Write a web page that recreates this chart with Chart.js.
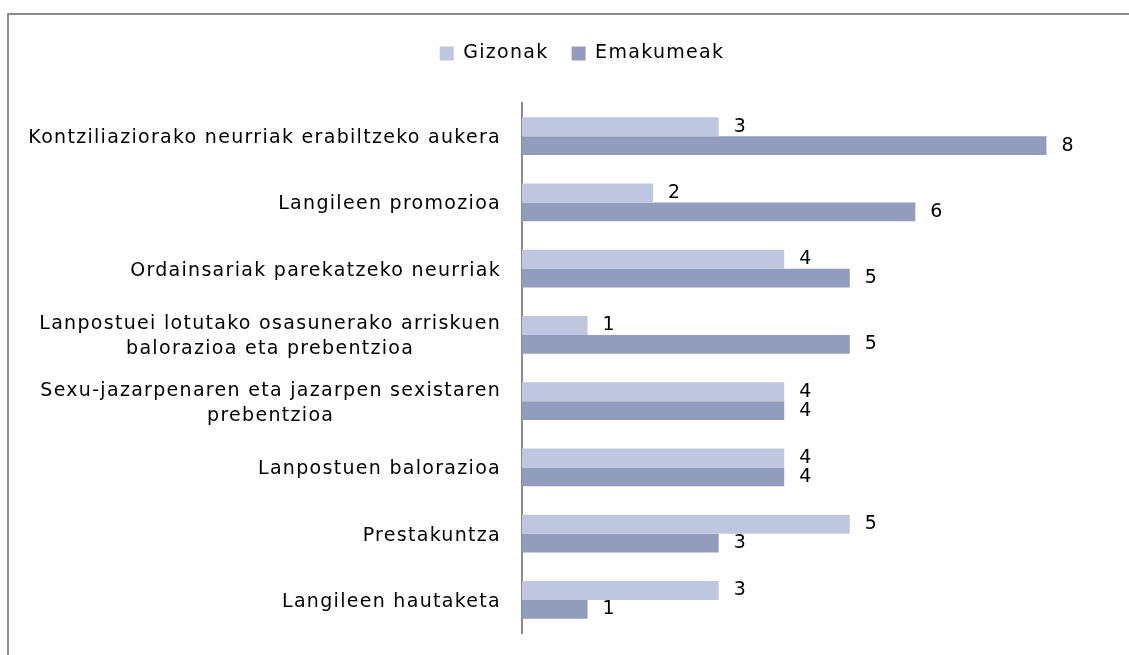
<!DOCTYPE html>
<html><head><meta charset="utf-8">
<script src="https://cdn.jsdelivr.net/npm/chart.js@4.4.0/dist/chart.umd.min.js"></script>
<style>
html,body{margin:0;padding:0;background:#fff;}
#wrap{position:relative;width:1129px;height:655px;overflow:hidden;}
#frame{position:absolute;left:7px;top:13px;right:-10px;bottom:-10px;border-top:2px solid #8c8c8c;border-left:2px solid #8c8c8c;}
canvas{position:absolute;left:0;top:0;}
</style></head>
<body><div id="wrap"><div id="frame"></div><canvas id="c" width="1129" height="655"></canvas></div>
<script>
const categories = [
  "Kontziliaziorako neurriak erabiltzeko aukera",
  "Langileen promozioa",
  "Ordainsariak parekatzeko neurriak",
  ["Lanpostuei lotutako osasunerako arriskuen","balorazioa eta prebentzioa"],
  ["Sexu-jazarpenaren eta jazarpen sexistaren","prebentzioa"],
  "Lanpostuen balorazioa",
  "Prestakuntza",
  "Langileen hautaketa"
];
const gizonak = [3, 2, 4, 1, 4, 4, 5, 3];
const emakumeak = [8, 6, 5, 5, 4, 4, 3, 1];
const seriesNames = ["Gizonak", "Emakumeak"];
const FONT = "DejaVu Sans";
const FSIZE = 19;
const SPACING = "1.3px";

function setSpacing(chart) { try { chart.ctx.letterSpacing = SPACING; } catch (e) {} }

const spacingPlugin = {
  id: 'spacing',
  beforeInit(chart) {
    setSpacing(chart);
    const lg = chart.legend;
    if (lg) {
      const orig = lg.fit;
      lg.fit = function () { orig.call(this); this.height = 82; };
    }
  },
  beforeUpdate: setSpacing,
  beforeLayout: setSpacing,
  afterLayout(chart) {
    const lg = chart.legend;
    if (lg) { lg.left = 26; lg.right = 1138; }
  },
  beforeDraw: setSpacing
};

const categoryLabels = {
  id: 'categoryLabels',
  afterDraw(chart) {
    const ctx = chart.ctx;
    const s = chart.scales.y;
    ctx.save();
    ctx.font = FSIZE + "px " + FONT;
    ctx.fillStyle = "#000";
    ctx.textBaseline = "middle";
    ctx.textAlign = "center";
    const right = 501;
    const lh = 25;
    categories.forEach((lab, i) => {
      const lines = Array.isArray(lab) ? lab : [lab];
      const w = Math.max(...lines.map(l => ctx.measureText(l).width));
      const cx = right - w / 2;
      const yc = s.getPixelForTick(i) + 2;
      lines.forEach((l, k) => {
        ctx.fillText(l, cx, yc + (k - (lines.length - 1) / 2) * lh);
      });
    });
    ctx.restore();
  }
};

const valueLabels = {
  id: 'valueLabels',
  afterDatasetsDraw(chart) {
    const ctx = chart.ctx;
    ctx.save();
    ctx.font = FSIZE + "px " + FONT;
    ctx.fillStyle = "#000";
    ctx.textAlign = "left";
    ctx.textBaseline = "middle";
    chart.data.datasets.forEach((ds, i) => {
      chart.getDatasetMeta(i).data.forEach((bar, j) => {
        ctx.fillText(String(ds.data[j]), bar.x + 15, bar.y);
      });
    });
    ctx.restore();
  }
};

new Chart(document.getElementById('c'), {
  type: 'bar',
  data: {
    labels: categories,
    datasets: [
      {label: seriesNames[0], data: gizonak, backgroundColor: '#bfc6e0', categoryPercentage: 0.573, barPercentage: 1.0},
      {label: seriesNames[1], data: emakumeak, backgroundColor: '#929cbd', categoryPercentage: 0.573, barPercentage: 1.0}
    ]
  },
  options: {
    indexAxis: 'y',
    responsive: false,
    animation: false,
    layout: {padding: {left: 0, right: 17, top: 21, bottom: 22}},
    plugins: {
      legend: {
        position: 'top',
        labels: {font: {family: FONT, size: FSIZE}, color: '#000', boxWidth: 14, boxHeight: 14, padding: 23}
      },
      tooltip: {enabled: false}
    },
    scales: {
      x: {display: false, min: 0, max: 9},
      y: {
        grid: {display: false, drawTicks: false},
        border: {display: true, color: '#8c8c8c', width: 2},
        ticks: {display: false},
        afterFit(s) { s.width = 522; }
      }
    }
  },
  plugins: [spacingPlugin, valueLabels, categoryLabels]
});
</script></body></html>
